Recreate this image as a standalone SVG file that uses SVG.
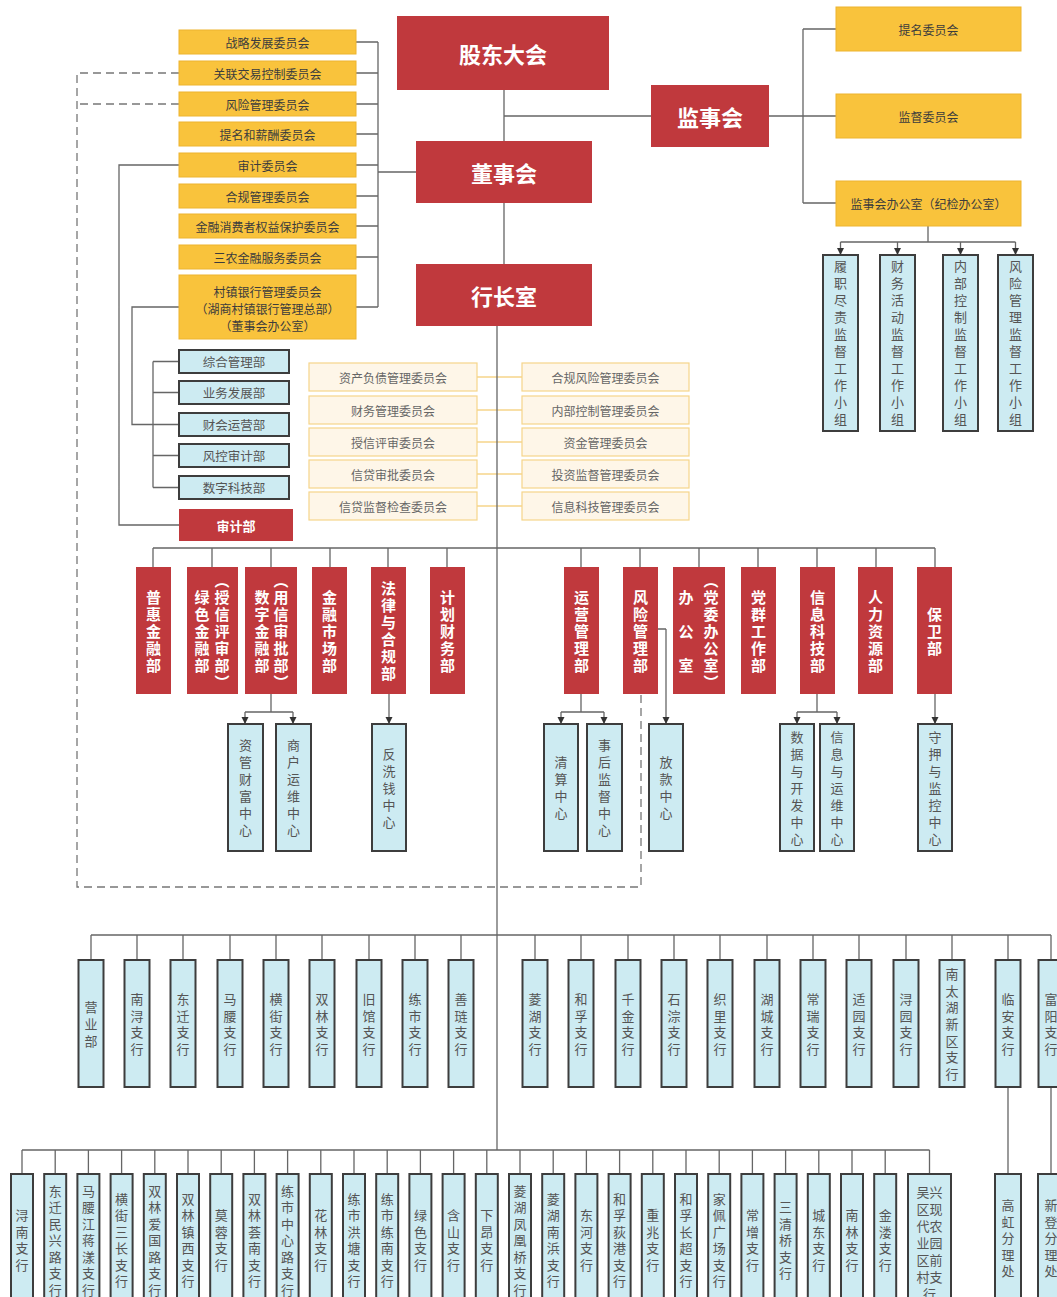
<svg xmlns="http://www.w3.org/2000/svg" width="1057" height="1297" viewBox="0 0 1057 1297">
<style>
text{font-family:"Noto Sans CJK SC","Noto Sans",sans-serif}
.red{fill:#C0393D}
.yel{fill:#F9C33C;stroke:#EDB42E;stroke-width:1}
.crm{fill:#FEF6E8;stroke:#F6D58A;stroke-width:1.2}
.blu{fill:#CDEBF2;stroke:#3d3d3d;stroke-width:2}
.ln{stroke:#666;stroke-width:1.3;fill:none}
.ds{stroke:#777;stroke-width:1.3;fill:none;stroke-dasharray:8 5}
.yl{stroke:#F6D58A;stroke-width:1.5;fill:none}
.ar{marker-end:url(#ah)}
.h{font-size:22px;font-weight:bold;fill:#fff;text-anchor:middle;dominant-baseline:central}
.c{font-size:12px;fill:#3c3c3c;text-anchor:middle;dominant-baseline:central}
.m{font-size:12px;fill:#666;text-anchor:middle;dominant-baseline:central}
.d{font-size:12.5px;fill:#555;text-anchor:middle;dominant-baseline:central}
.w{font-size:13px;font-weight:bold;fill:#fff;text-anchor:middle;dominant-baseline:central}
.rv{writing-mode:vertical-rl;font-size:15px;font-weight:bold;fill:#fff;text-anchor:middle;letter-spacing:2px}
.bv{writing-mode:vertical-rl;font-size:13px;fill:#555;text-anchor:middle;letter-spacing:4px}
.b1{writing-mode:vertical-rl;font-size:13px;fill:#555;text-anchor:middle;letter-spacing:3.7px}
.b2{writing-mode:vertical-rl;font-size:13px;fill:#555;text-anchor:middle;letter-spacing:3.5px}
.hz{font-size:13px;fill:#555;text-anchor:middle;dominant-baseline:central}
</style>
<defs>
<marker id="ah" markerWidth="8" markerHeight="8" refX="7" refY="4" orient="auto" markerUnits="userSpaceOnUse"><path d="M0,0.5 L7,4 L0,7.5z" fill="#333"/></marker>
</defs>
<rect width="1057" height="1297" fill="#fff"/>

<g id="connectors">
<path class="yl" d="M477,377H522M477,410H522M477,442H522M477,474H522M477,506H522"/>
<path class="ln" d="M504,90V141M504,203V264M504,116H651M769,116H836M803,29V203M803,29H836M803,203H836"/>
<path class="ln" d="M928,226V242M840.5,242H1015.5"/>
<path class="ln ar" d="M840.5,242V255"/><path class="ln ar" d="M897.5,242V255"/><path class="ln ar" d="M960.5,242V255"/><path class="ln ar" d="M1015.5,242V255"/>
<path class="ln" d="M356,42H378M356,73H378M356,104H378M356,134H378M356,165H378M356,196H378M356,226H378M356,257H378M356,307H378M378,42V307M378,172H416"/>
<path class="ds" d="M179,73H77V887H641V694M179,104H77"/>
<path class="ln" d="M179,165H119V525H179M179,307H132V424.5H179M153,361.5V487.5M153,361.5H179M153,392.5H179M153,455.5H179M153,487.5H179"/>
<path class="ln" d="M497,326V1150"/>
<path class="ln" d="M153,548H935M153,548V567M212,548V567M271,548V567M330,548V567M388,548V567M447,548V567M581,548V567M640,548V567M699,548V567M758,548V567M817,548V567M876,548V567M935,548V567"/>
<path class="ln" d="M271,694V712M245,712H293M581,694V712M561,712H604M817,694V712M797,712H837M658,629H666"/>
<path class="ln ar" d="M245,712V724"/><path class="ln ar" d="M293,712V724"/><path class="ln ar" d="M389,694V724"/>
<path class="ln ar" d="M561,712V724"/><path class="ln ar" d="M604,712V724"/><path class="ln ar" d="M666,629V724"/>
<path class="ln ar" d="M797,712V724"/><path class="ln ar" d="M837,712V724"/><path class="ln ar" d="M935,694V724"/>
<path class="ln" d="M91,935H1051M91,935V960M137,935V960M183,935V960M230,935V960M276,935V960M322,935V960M369,935V960M415,935V960M461,935V960M535,935V960M581,935V960M628,935V960M674,935V960M720,935V960M767,935V960M813,935V960M859,935V960M906,935V960M952,935V960M1008,935V960M1051,935V960"/>
<path class="ln" d="M1008,1087V1174M1051,1087V1174"/>
<path class="ln" d="M22,1150H929.5M22,1150V1174M55.2,1150V1174M88.4,1150V1174M121.6,1150V1174M154.8,1150V1174M188,1150V1174M221.2,1150V1174M254.4,1150V1174M287.6,1150V1174M320.8,1150V1174M354,1150V1174M387.2,1150V1174M420.4,1150V1174M453.6,1150V1174M486.8,1150V1174M520,1150V1174M553.2,1150V1174M586.4,1150V1174M619.6,1150V1174M652.8,1150V1174M686,1150V1174M719.2,1150V1174M752.4,1150V1174M785.6,1150V1174M818.8,1150V1174M852,1150V1174M885.2,1150V1174M929.5,1150V1174"/>
</g>

<g id="gudong"><rect class="red" x="397" y="16" width="212" height="74"/><text class="h" x="503" y="53">股东大会</text></g>
<g id="dongshi"><rect class="red" x="416" y="141" width="176" height="62"/><text class="h" x="504" y="172">董事会</text></g>
<g id="hangzhang"><rect class="red" x="416" y="264" width="176" height="62"/><text class="h" x="504" y="295">行长室</text></g>
<g id="jianshi"><rect class="red" x="651" y="85" width="118" height="62"/><text class="h" x="710" y="116">监事会</text></g>

<g id="c1"><rect class="yel" x="179" y="30" width="177" height="24"/><text class="c" x="267.5" y="42">战略发展委员会</text></g>
<g id="c2"><rect class="yel" x="179" y="61" width="177" height="24"/><text class="c" x="267.5" y="73">关联交易控制委员会</text></g>
<g id="c3"><rect class="yel" x="179" y="92" width="177" height="24"/><text class="c" x="267.5" y="104">风险管理委员会</text></g>
<g id="c4"><rect class="yel" x="179" y="122" width="177" height="24"/><text class="c" x="267.5" y="134">提名和薪酬委员会</text></g>
<g id="c5"><rect class="yel" x="179" y="153" width="177" height="24"/><text class="c" x="267.5" y="165">审计委员会</text></g>
<g id="c6"><rect class="yel" x="179" y="184" width="177" height="24"/><text class="c" x="267.5" y="196">合规管理委员会</text></g>
<g id="c7"><rect class="yel" x="179" y="214" width="177" height="24"/><text class="c" x="267.5" y="226">金融消费者权益保护委员会</text></g>
<g id="c8"><rect class="yel" x="179" y="245" width="177" height="24"/><text class="c" x="267.5" y="257">三农金融服务委员会</text></g>
<g id="c9"><rect class="yel" x="179" y="275" width="177" height="64"/><text class="c" x="267.5" y="291">村镇银行管理委员会</text><text class="c" x="267.5" y="308">（湖商村镇银行管理总部）</text><text class="c" x="267.5" y="325">（董事会办公室）</text></g>

<g id="s1"><rect class="yel" x="836" y="7" width="185" height="44"/><text class="c" x="928.5" y="29">提名委员会</text></g>
<g id="s2"><rect class="yel" x="836" y="94" width="185" height="44"/><text class="c" x="928.5" y="116">监督委员会</text></g>
<g id="s3"><rect class="yel" x="836" y="181" width="185" height="45"/><text class="c" x="928.5" y="203.5">监事会办公室（纪检办公室）</text></g>
<g id="sg1"><rect class="blu" x="823" y="255" width="35" height="176"/><text class="bv" x="840.5" y="345">履职尽责监督工作小组</text></g>
<g id="sg2"><rect class="blu" x="880" y="255" width="35" height="176"/><text class="bv" x="897.5" y="345">财务活动监督工作小组</text></g>
<g id="sg3"><rect class="blu" x="943" y="255" width="35" height="176"/><text class="bv" x="960.5" y="345">内部控制监督工作小组</text></g>
<g id="sg4"><rect class="blu" x="998" y="255" width="35" height="176"/><text class="bv" x="1015.5" y="345">风险管理监督工作小组</text></g>

<g id="d1"><rect class="blu" x="179" y="350" width="110" height="23"/><text class="d" x="234" y="361.5">综合管理部</text></g>
<g id="d2"><rect class="blu" x="179" y="381" width="110" height="23"/><text class="d" x="234" y="392.5">业务发展部</text></g>
<g id="d3"><rect class="blu" x="179" y="413" width="110" height="23"/><text class="d" x="234" y="424.5">财会运营部</text></g>
<g id="d4"><rect class="blu" x="179" y="444" width="110" height="23"/><text class="d" x="234" y="455.5">风控审计部</text></g>
<g id="d5"><rect class="blu" x="179" y="476" width="110" height="23"/><text class="d" x="234" y="487.5">数字科技部</text></g>
<g id="d6"><rect class="red" x="179" y="509" width="114" height="32"/><text class="w" x="236" y="525">审计部</text></g>

<g id="m1"><rect class="crm" x="309" y="363" width="168" height="28"/><text class="m" x="393" y="377">资产负债管理委员会</text></g>
<g id="m2"><rect class="crm" x="309" y="396" width="168" height="28"/><text class="m" x="393" y="410">财务管理委员会</text></g>
<g id="m3"><rect class="crm" x="309" y="428" width="168" height="28"/><text class="m" x="393" y="442">授信评审委员会</text></g>
<g id="m4"><rect class="crm" x="309" y="460" width="168" height="28"/><text class="m" x="393" y="474">信贷审批委员会</text></g>
<g id="m5"><rect class="crm" x="309" y="492" width="168" height="28"/><text class="m" x="393" y="506">信贷监督检查委员会</text></g>
<g id="m6"><rect class="crm" x="522" y="363" width="167" height="28"/><text class="m" x="605.5" y="377">合规风险管理委员会</text></g>
<g id="m7"><rect class="crm" x="522" y="396" width="167" height="28"/><text class="m" x="605.5" y="410">内部控制管理委员会</text></g>
<g id="m8"><rect class="crm" x="522" y="428" width="167" height="28"/><text class="m" x="605.5" y="442">资金管理委员会</text></g>
<g id="m9"><rect class="crm" x="522" y="460" width="167" height="28"/><text class="m" x="605.5" y="474">投资监督管理委员会</text></g>
<g id="m10"><rect class="crm" x="522" y="492" width="167" height="28"/><text class="m" x="605.5" y="506">信息科技管理委员会</text></g>

<g id="r1"><rect class="red" x="136" y="567" width="35" height="127"/><text class="rv" x="153.5" y="632">普惠金融部</text></g>
<g id="r2"><rect class="red" x="187" y="567" width="51" height="127"/><text class="rv" x="202" y="632">绿色金融部</text><text class="rv" x="222" y="632">（授信评审部）</text></g>
<g id="r3"><rect class="red" x="245" y="567" width="52" height="127"/><text class="rv" x="262" y="632">数字金融部</text><text class="rv" x="281" y="632">（用信审批部）</text></g>
<g id="r4"><rect class="red" x="312" y="567" width="35" height="127"/><text class="rv" x="329.5" y="632">金融市场部</text></g>
<g id="r5"><rect class="red" x="371" y="567" width="35" height="127"/><text class="rv" x="388.5" y="632">法律与合规部</text></g>
<g id="r6"><rect class="red" x="430" y="567" width="35" height="127"/><text class="rv" x="447.5" y="632">计划财务部</text></g>
<g id="r7"><rect class="red" x="564" y="567" width="35" height="127"/><text class="rv" x="581.5" y="632">运营管理部</text></g>
<g id="r8"><rect class="red" x="623" y="567" width="35" height="127"/><text class="rv" x="640.5" y="632">风险管理部</text></g>
<g id="r9"><rect class="red" x="673" y="567" width="52" height="127"/><text class="rv" x="686" y="641" style="letter-spacing:19px">办公室</text><text class="rv" x="711" y="632">（党委办公室）</text></g>
<g id="r10"><rect class="red" x="741" y="567" width="35" height="127"/><text class="rv" x="758.5" y="632">党群工作部</text></g>
<g id="r11"><rect class="red" x="800" y="567" width="35" height="127"/><text class="rv" x="817.5" y="632">信息科技部</text></g>
<g id="r12"><rect class="red" x="858" y="567" width="35" height="127"/><text class="rv" x="875.5" y="632">人力资源部</text></g>
<g id="r13"><rect class="red" x="917" y="567" width="35" height="127"/><text class="rv" x="934.5" y="632">保卫部</text></g>

<g id="sc1"><rect class="blu" x="228" y="724" width="35" height="127"/><text class="bv" x="245.5" y="790">资管财富中心</text></g>
<g id="sc2"><rect class="blu" x="276" y="724" width="35" height="127"/><text class="bv" x="293.5" y="790">商户运维中心</text></g>
<g id="sc3"><rect class="blu" x="372" y="724" width="34" height="127"/><text class="bv" x="389" y="790">反洗钱中心</text></g>
<g id="sc4"><rect class="blu" x="544" y="724" width="34" height="127"/><text class="bv" x="561" y="790">清算中心</text></g>
<g id="sc5"><rect class="blu" x="587" y="724" width="35" height="127"/><text class="bv" x="604.5" y="790">事后监督中心</text></g>
<g id="sc6"><rect class="blu" x="649" y="724" width="34" height="127"/><text class="bv" x="666" y="790">放款中心</text></g>
<g id="sc7"><rect class="blu" x="780" y="724" width="34" height="127"/><text class="bv" x="797" y="790">数据与开发中心</text></g>
<g id="sc8"><rect class="blu" x="820" y="724" width="34" height="127"/><text class="bv" x="837" y="790">信息与运维中心</text></g>
<g id="sc9"><rect class="blu" x="918" y="724" width="34" height="127"/><text class="bv" x="935" y="790">守押与监控中心</text></g>

<g id="row1">
<g id="b1_1"><rect class="blu" x="78.5" y="960" width="25" height="127"/><text class="b1" x="91" y="1026">营业部</text></g>
<g id="b1_2"><rect class="blu" x="124.5" y="960" width="25" height="127"/><text class="b1" x="137" y="1026">南浔支行</text></g>
<g id="b1_3"><rect class="blu" x="170.5" y="960" width="25" height="127"/><text class="b1" x="183" y="1026">东迁支行</text></g>
<g id="b1_4"><rect class="blu" x="217.5" y="960" width="25" height="127"/><text class="b1" x="230" y="1026">马腰支行</text></g>
<g id="b1_5"><rect class="blu" x="263.5" y="960" width="25" height="127"/><text class="b1" x="276" y="1026">横街支行</text></g>
<g id="b1_6"><rect class="blu" x="309.5" y="960" width="25" height="127"/><text class="b1" x="322" y="1026">双林支行</text></g>
<g id="b1_7"><rect class="blu" x="356.5" y="960" width="25" height="127"/><text class="b1" x="369" y="1026">旧馆支行</text></g>
<g id="b1_8"><rect class="blu" x="402.5" y="960" width="25" height="127"/><text class="b1" x="415" y="1026">练市支行</text></g>
<g id="b1_9"><rect class="blu" x="448.5" y="960" width="25" height="127"/><text class="b1" x="461" y="1026">善琏支行</text></g>
<g id="b1_10"><rect class="blu" x="522.5" y="960" width="25" height="127"/><text class="b1" x="535" y="1026">菱湖支行</text></g>
<g id="b1_11"><rect class="blu" x="568.5" y="960" width="25" height="127"/><text class="b1" x="581" y="1026">和孚支行</text></g>
<g id="b1_12"><rect class="blu" x="615.5" y="960" width="25" height="127"/><text class="b1" x="628" y="1026">千金支行</text></g>
<g id="b1_13"><rect class="blu" x="661.5" y="960" width="25" height="127"/><text class="b1" x="674" y="1026">石淙支行</text></g>
<g id="b1_14"><rect class="blu" x="707.5" y="960" width="25" height="127"/><text class="b1" x="720" y="1026">织里支行</text></g>
<g id="b1_15"><rect class="blu" x="754.5" y="960" width="25" height="127"/><text class="b1" x="767" y="1026">湖城支行</text></g>
<g id="b1_16"><rect class="blu" x="800.5" y="960" width="25" height="127"/><text class="b1" x="813" y="1026">常瑞支行</text></g>
<g id="b1_17"><rect class="blu" x="846.5" y="960" width="25" height="127"/><text class="b1" x="859" y="1026">适园支行</text></g>
<g id="b1_18"><rect class="blu" x="893.5" y="960" width="25" height="127"/><text class="b1" x="906" y="1026">浔园支行</text></g>
<g id="b1_19"><rect class="blu" x="939.5" y="960" width="25" height="127"/><text class="b1" x="952" y="1026">南太湖新区支行</text></g>
<g id="b1_20"><rect class="blu" x="995.5" y="960" width="25" height="127"/><text class="b1" x="1008" y="1026">临安支行</text></g>
<g id="b1_21"><rect class="blu" x="1038.5" y="960" width="25" height="127"/><text class="b1" x="1051" y="1026">富阳支行</text></g>
</g>

<g id="row2">
<g id="b2_1"><rect class="blu" x="11" y="1174" width="22" height="140"/><text class="b2" x="22" y="1242">浔南支行</text></g>
<g id="b2_2"><rect class="blu" x="44.2" y="1174" width="22" height="140"/><text class="b2" x="55.2" y="1242">东迁民兴路支行</text></g>
<g id="b2_3"><rect class="blu" x="77.4" y="1174" width="22" height="140"/><text class="b2" x="88.4" y="1242">马腰江蒋漾支行</text></g>
<g id="b2_4"><rect class="blu" x="110.6" y="1174" width="22" height="140"/><text class="b2" x="121.6" y="1242">横街三长支行</text></g>
<g id="b2_5"><rect class="blu" x="143.8" y="1174" width="22" height="140"/><text class="b2" x="154.8" y="1242">双林爱国路支行</text></g>
<g id="b2_6"><rect class="blu" x="177" y="1174" width="22" height="140"/><text class="b2" x="188" y="1242">双林镇西支行</text></g>
<g id="b2_7"><rect class="blu" x="210.2" y="1174" width="22" height="140"/><text class="b2" x="221.2" y="1242">莫蓉支行</text></g>
<g id="b2_8"><rect class="blu" x="243.4" y="1174" width="22" height="140"/><text class="b2" x="254.4" y="1242">双林荟南支行</text></g>
<g id="b2_9"><rect class="blu" x="276.6" y="1174" width="22" height="140"/><text class="b2" x="287.6" y="1242">练市中心路支行</text></g>
<g id="b2_10"><rect class="blu" x="309.8" y="1174" width="22" height="140"/><text class="b2" x="320.8" y="1242">花林支行</text></g>
<g id="b2_11"><rect class="blu" x="343" y="1174" width="22" height="140"/><text class="b2" x="354" y="1242">练市洪塘支行</text></g>
<g id="b2_12"><rect class="blu" x="376.2" y="1174" width="22" height="140"/><text class="b2" x="387.2" y="1242">练市练南支行</text></g>
<g id="b2_13"><rect class="blu" x="409.4" y="1174" width="22" height="140"/><text class="b2" x="420.4" y="1242">绿色支行</text></g>
<g id="b2_14"><rect class="blu" x="442.6" y="1174" width="22" height="140"/><text class="b2" x="453.6" y="1242">含山支行</text></g>
<g id="b2_15"><rect class="blu" x="475.8" y="1174" width="22" height="140"/><text class="b2" x="486.8" y="1242">下昂支行</text></g>
<g id="b2_16"><rect class="blu" x="509" y="1174" width="22" height="140"/><text class="b2" x="520" y="1242">菱湖凤凰桥支行</text></g>
<g id="b2_17"><rect class="blu" x="542.2" y="1174" width="22" height="140"/><text class="b2" x="553.2" y="1242">菱湖南浜支行</text></g>
<g id="b2_18"><rect class="blu" x="575.4" y="1174" width="22" height="140"/><text class="b2" x="586.4" y="1242">东河支行</text></g>
<g id="b2_19"><rect class="blu" x="608.6" y="1174" width="22" height="140"/><text class="b2" x="619.6" y="1242">和孚荻港支行</text></g>
<g id="b2_20"><rect class="blu" x="641.8" y="1174" width="22" height="140"/><text class="b2" x="652.8" y="1242">重兆支行</text></g>
<g id="b2_21"><rect class="blu" x="675" y="1174" width="22" height="140"/><text class="b2" x="686" y="1242">和孚长超支行</text></g>
<g id="b2_22"><rect class="blu" x="708.2" y="1174" width="22" height="140"/><text class="b2" x="719.2" y="1242">家佩广场支行</text></g>
<g id="b2_23"><rect class="blu" x="741.4" y="1174" width="22" height="140"/><text class="b2" x="752.4" y="1242">常增支行</text></g>
<g id="b2_24"><rect class="blu" x="774.6" y="1174" width="22" height="140"/><text class="b2" x="785.6" y="1242">三清桥支行</text></g>
<g id="b2_25"><rect class="blu" x="807.8" y="1174" width="22" height="140"/><text class="b2" x="818.8" y="1242">城东支行</text></g>
<g id="b2_26"><rect class="blu" x="841" y="1174" width="22" height="140"/><text class="b2" x="852" y="1242">南林支行</text></g>
<g id="b2_27"><rect class="blu" x="874.2" y="1174" width="22" height="140"/><text class="b2" x="885.2" y="1242">金溇支行</text></g>
<g id="b2_28"><rect class="blu" x="908" y="1174" width="43" height="140"/><text class="hz" x="929.5" y="1191">吴兴</text><text class="hz" x="929.5" y="1208">区现</text><text class="hz" x="929.5" y="1225">代农</text><text class="hz" x="929.5" y="1242">业园</text><text class="hz" x="929.5" y="1259">区前</text><text class="hz" x="929.5" y="1276">村支</text><text class="hz" x="929.5" y="1293">行</text></g>
<g id="b2_29"><rect class="blu" x="995" y="1174" width="26" height="140"/><text class="b2" x="1008" y="1240">高虹分理处</text></g>
<g id="b2_30"><rect class="blu" x="1038" y="1174" width="26" height="140"/><text class="b2" x="1051" y="1240">新登分理处</text></g>
</g>
</svg>
